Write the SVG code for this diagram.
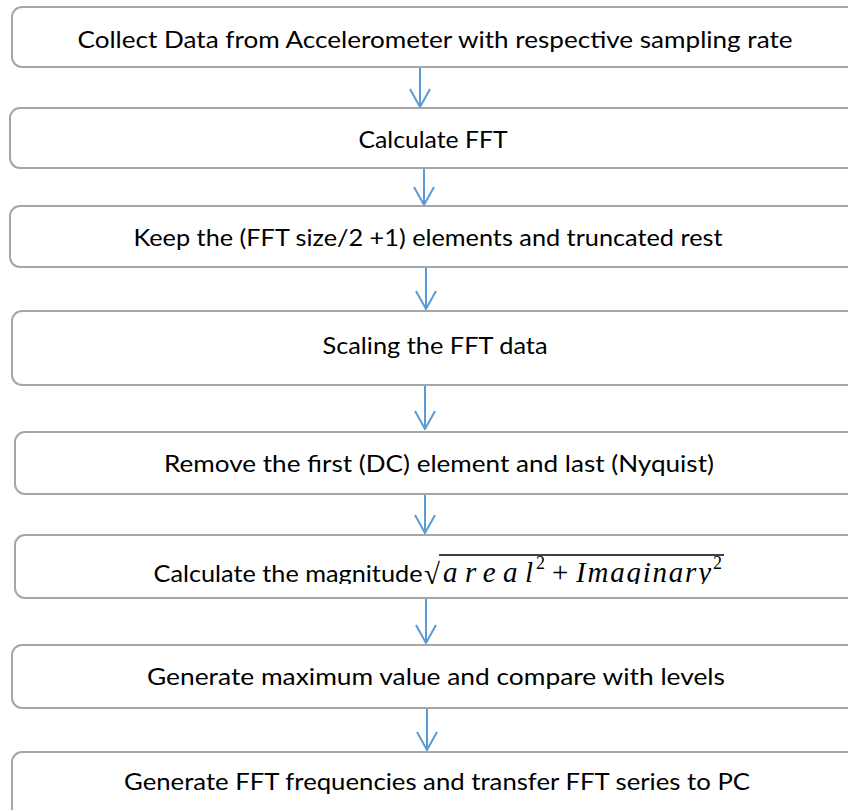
<svg xmlns="http://www.w3.org/2000/svg" width="848" height="810" viewBox="0 0 848 810">
  <style>
    .box { fill: #ffffff; stroke: #a6a6a6; stroke-width: 2; }
    .label { font-family: Lato, "Open Sans", sans-serif; font-size: 24px; fill: #000000; text-anchor: middle; }
    .math { font-family: "Liberation Serif", "DejaVu Serif", serif; font-size: 29px; fill: #000000; font-style: italic; }
    .sup { font-style: normal; font-size: 18px; }
    .op { font-style: normal; }
    .conn { fill: none; stroke: #5b9bd5; stroke-width: 2; }
  </style>
  <defs>
    <marker id="arrowhead" viewBox="0 0 22 20" refX="11" refY="19" markerWidth="22" markerHeight="20" markerUnits="userSpaceOnUse" orient="0">
      <path d="M1,1 L11,19 L21,1" fill="none" stroke="#5b9bd5" stroke-width="2"/>
    </marker>
    <clipPath id="clip-mag">
      <rect x="0" y="540" width="848" height="44"/>
    </clipPath>
  </defs>
  <rect width="848" height="810" fill="#ffffff"/>

  <g id="connectors">
    <line class="conn" x1="420" y1="68" x2="420" y2="107" marker-end="url(#arrowhead)"/>
    <line class="conn" x1="424" y1="169" x2="424" y2="205" marker-end="url(#arrowhead)"/>
    <line class="conn" x1="426" y1="268" x2="426" y2="309" marker-end="url(#arrowhead)"/>
    <line class="conn" x1="425" y1="386" x2="425" y2="429" marker-end="url(#arrowhead)"/>
    <line class="conn" x1="425" y1="495" x2="425" y2="533" marker-end="url(#arrowhead)"/>
    <line class="conn" x1="426" y1="599" x2="426" y2="643" marker-end="url(#arrowhead)"/>
    <line class="conn" x1="427" y1="709" x2="427" y2="750" marker-end="url(#arrowhead)"/>
  </g>

  <g id="collect">
    <rect class="box" x="12" y="7" width="860" height="60" rx="10"/>
    <text class="label" x="435" y="48" textLength="715" lengthAdjust="spacingAndGlyphs">Collect Data from Accelerometer with respective sampling rate</text>
  </g>

  <g id="fft">
    <rect class="box" x="10" y="108" width="860" height="60" rx="10"/>
    <text class="label" x="433" y="148" textLength="149" lengthAdjust="spacingAndGlyphs">Calculate FFT</text>
  </g>

  <g id="truncate">
    <rect class="box" x="10" y="206" width="860" height="61" rx="10"/>
    <text class="label" x="428" y="246" textLength="589" lengthAdjust="spacingAndGlyphs">Keep the (FFT size/2 +1) elements and truncated rest</text>
  </g>

  <g id="scaling">
    <rect class="box" x="12" y="311" width="860" height="74" rx="10"/>
    <text class="label" x="435" y="354" textLength="225" lengthAdjust="spacingAndGlyphs">Scaling the FFT data</text>
  </g>

  <g id="remove">
    <rect class="box" x="15" y="432" width="860" height="62" rx="10"/>
    <text class="label" x="439" y="472" textLength="550" lengthAdjust="spacingAndGlyphs">Remove the first (DC) element and last (Nyquist)</text>
  </g>

  <g id="magnitude">
    <rect class="box" x="15" y="535" width="860" height="63" rx="10"/>
    <g clip-path="url(#clip-mag)">
      <text class="label" x="288" y="582" textLength="269" lengthAdjust="spacingAndGlyphs">Calculate the magnitude</text>
      <text class="math op" x="424" y="584" font-size="30">√</text>
      <line x1="439" y1="555" x2="724" y2="555" stroke="#000000" stroke-width="1.5"/>
      <text class="math" x="443" y="582" textLength="90" lengthAdjust="spacing">areal</text>
      <text class="math sup" x="536" y="569">2</text>
      <text class="math op" x="552" y="582">+</text>
      <text class="math" x="576" y="582" textLength="135" lengthAdjust="spacing">Imaginary</text>
      <text class="math sup" x="713" y="569">2</text>
    </g>
  </g>

  <g id="levels">
    <rect class="box" x="12" y="645" width="860" height="63" rx="10"/>
    <text class="label" x="436" y="685" textLength="578" lengthAdjust="spacingAndGlyphs">Generate maximum value and compare with levels</text>
  </g>

  <g id="transfer">
    <rect class="box" x="12" y="752" width="860" height="100" rx="10"/>
    <text class="label" x="437" y="790" textLength="626" lengthAdjust="spacingAndGlyphs">Generate FFT frequencies and transfer FFT series to PC</text>
  </g>
</svg>
